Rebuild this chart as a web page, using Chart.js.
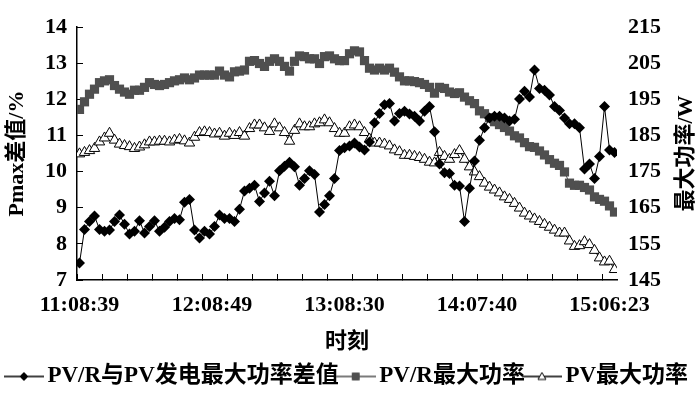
<!DOCTYPE html>
<html lang="zh">
<head>
    <title>最大功率对比</title>
    <meta charset="utf-8" />
    <script src="https://cdn.jsdelivr.net/npm/chart.js"></script>
    <style>
        html, body { margin: 0; padding: 0; background: #fff; }
        #chart { display: block; }
    </style>
</head>
<body>
    <canvas id="chart" width="700" height="398"></canvas>

    <script>
        // Time labels shown under the x axis
        const timeLabels = ['11:08:39', '12:08:49', '13:08:30', '14:07:40', '15:06:23'];

        // PV/R与PV发电最大功率差值 (%), left axis
        const diffPct = [7.47, 8.40, 8.62, 8.77, 8.40, 8.35, 8.38, 8.62, 8.80, 8.54,
            8.27, 8.35, 8.64, 8.30, 8.48, 8.64, 8.35, 8.46, 8.62, 8.70,
            8.67, 9.15, 9.23, 8.38, 8.16, 8.35, 8.27, 8.48, 8.80, 8.70,
            8.70, 8.62, 8.96, 9.46, 9.54, 9.62, 9.17, 9.41, 9.73, 9.33,
            10.02, 10.15, 10.26, 10.13, 9.62, 9.81, 10.02, 9.92, 8.88, 9.09,
            9.33, 9.81, 10.58, 10.66, 10.71, 10.79, 10.68, 10.60, 10.82, 11.35,
            11.61, 11.85, 11.88, 11.40, 11.61, 11.67, 11.59, 11.53, 11.40, 11.67,
            11.80, 11.10, 10.21, 9.97, 9.95, 9.62, 9.60, 8.62, 9.54, 10.29,
            10.87, 11.21, 11.48, 11.53, 11.53, 11.48, 11.40, 11.45, 12.01, 12.22,
            12.06, 12.81, 12.30, 12.25, 12.12, 11.80, 11.69, 11.48, 11.32, 11.32,
            11.21, 10.07, 10.21, 9.81, 10.42, 11.80, 10.60, 10.53];

        // PV/R最大功率 (W), right axis
        const prMaxW = [192.2, 194.3, 196.4, 197.8, 199.6, 200.1, 200.4, 198.8, 197.8, 197.0,
            196.4, 197.5, 197.5, 198.3, 199.6, 199.1, 198.8, 199.1, 199.6, 200.1,
            200.4, 200.9, 200.4, 200.9, 201.7, 201.7, 201.7, 201.7, 202.8, 201.7,
            201.2, 202.6, 202.8, 203.1, 205.5, 205.7, 204.9, 204.1, 205.5, 206.2,
            205.5, 204.1, 202.8, 205.5, 207.0, 206.8, 206.2, 206.2, 204.9, 206.8,
            207.0, 206.2, 205.7, 205.7, 207.6, 208.4, 208.1, 205.7, 203.6, 203.1,
            203.6, 203.1, 203.6, 202.5, 201.2, 200.1, 200.1, 199.9, 199.6, 199.1,
            198.3, 196.7, 198.3, 198.0, 197.0, 196.6, 196.8, 195.6, 194.6, 193.8,
            191.8, 191.0, 189.9, 188.8, 188.0, 187.2, 186.2, 184.9, 184.3, 183.0,
            181.9, 181.7, 180.7, 179.6, 178.3, 177.3, 176.7, 174.9, 171.8, 171.2,
            171.2, 170.6, 169.9, 168.0, 167.3, 166.8, 165.5, 163.8];

        // PV最大功率 (W), right axis
        const pvMaxW = [179.9, 180.3, 180.8, 181.4, 183.2, 184.3, 185.6, 183.7, 182.6, 182.2,
            181.9, 181.4, 181.8, 182.4, 183.2, 183.2, 183.4, 183.4, 183.2, 183.7,
            183.9, 183.5, 182.9, 184.5, 185.8, 186.0, 185.8, 185.4, 185.6, 184.8,
            185.6, 185.0, 185.8, 184.8, 186.9, 187.9, 187.9, 187.1, 186.1, 188.2,
            187.1, 185.8, 183.4, 186.4, 188.2, 187.4, 187.4, 188.2, 188.5, 189.3,
            188.5, 186.9, 185.6, 185.6, 187.4, 187.9, 187.4, 185.8, 184.0, 182.9,
            182.9, 182.6, 182.1, 181.0, 180.5, 179.5, 179.5, 179.2, 178.9, 178.4,
            177.6, 177.4, 180.3, 179.2, 178.4, 179.7, 180.8, 178.4, 176.3, 174.9,
            173.6, 171.8, 170.7, 169.9, 169.1, 168.0, 167.3, 166.2, 164.9, 163.5,
            162.7, 161.9, 161.2, 160.4, 159.6, 158.8, 158.0, 158.0, 155.8, 154.3,
            154.5, 155.6, 154.8, 153.2, 151.1, 150.0, 150.2, 147.9];

        const FONT = "'Liberation Serif', 'Times New Roman', 'Noto Sans CJK SC', serif";
        const GREY = '#4f4f4f';
        const txt = (size) => ({ family: FONT, size: size, weight: 'bold', lineHeight: 1 });

        // Sample index -> point
        const toPts = arr => arr.map((v, i) => ({ x: i, y: v }));

        // Where the time labels sit along the sample index axis
        const labelAt = [0, 26.5, 53, 79.5, 106];

        // x axis: tick marks every 5 samples plus the label ticks
        function xTicks(scale) {
            const t = [];
            for (let v = -0.5; v < 107; v += 5) t.push({ value: v, mark: true });
            labelAt.forEach((v, i) => t.push({ value: v, text: timeLabels[i] }));
            t.sort((a, b) => a.value - b.value);
            scale.ticks = t;
        }

        // Small legend pictures: line with the marker in the middle
        function legendPic(shape, color, fill) {
            const c = document.createElement('canvas');
            c.width = 40; c.height = 14;
            const g = c.getContext('2d');
            g.strokeStyle = color; g.lineWidth = 1.5;
            g.beginPath(); g.moveTo(0, 7); g.lineTo(40, 7); g.stroke();
            g.fillStyle = fill; g.lineWidth = 1;
            g.beginPath();
            if (shape === 'diamond') { g.moveTo(20, 3); g.lineTo(24, 7); g.lineTo(20, 11); g.lineTo(16, 7); }
            if (shape === 'square') { g.rect(16.5, 3.5, 7, 7); }
            if (shape === 'triangle') { g.moveTo(20, 3); g.lineTo(24, 10); g.lineTo(16, 10); }
            g.closePath(); g.fill(); g.stroke();
            return c;
        }
        const legendPics = [
            legendPic('diamond', '#000', '#000'),
            legendPic('square', GREY, GREY),
            legendPic('triangle', '#000', '#fff')
        ];

        // Right axis title reads bottom to top, like the left one
        const rightTitle = {
            id: 'rightTitle',
            afterDraw(chart) {
                const s = chart.scales.y1, a = chart.chartArea, c = chart.ctx;
                c.save();
                c.translate(s.right - 14, (a.top + a.bottom) / 2);
                c.rotate(-Math.PI / 2);
                c.font = 'bold 22px ' + FONT;
                c.fillStyle = '#000';
                c.textAlign = 'center';
                c.textBaseline = 'middle';
                c.fillText('最大功率/W', 0, 0);
                c.restore();
            }
        };

        new Chart(document.getElementById('chart'), {
            type: 'line',
            data: {
                datasets: [
                    {
                        label: 'PV/R与PV发电最大功率差值', data: toPts(diffPct), yAxisID: 'y',
                        borderColor: '#000', borderWidth: 1,
                        pointStyle: 'rectRot', pointRadius: 5.5,
                        pointBackgroundColor: '#000', pointBorderColor: '#000', pointBorderWidth: 0
                    },
                    {
                        label: 'PV/R最大功率', data: toPts(prMaxW), yAxisID: 'y1',
                        borderColor: GREY, borderWidth: 1,
                        pointStyle: 'rect', pointRadius: 6.5,
                        pointBackgroundColor: GREY, pointBorderColor: GREY, pointBorderWidth: 0
                    },
                    {
                        label: 'PV最大功率', data: toPts(pvMaxW), yAxisID: 'y1',
                        borderColor: '#000', borderWidth: 1,
                        pointStyle: 'triangle', pointRadius: 6,
                        pointBackgroundColor: '#fff', pointBorderColor: '#000', pointBorderWidth: 1
                    }
                ]
            },
            options: {
                responsive: false,
                animation: false,
                layout: { padding: { top: 17, left: 0, right: 0, bottom: 0 } },
                plugins: {
                    tooltip: { enabled: false },
                    legend: {
                        position: 'bottom',
                        labels: {
                            usePointStyle: true,
                            pointStyleWidth: 24,
                            padding: 5,
                            color: '#000',
                            font: txt(23),
                            generateLabels: chart => chart.data.datasets.map((ds, i) => ({
                                text: ds.label, pointStyle: legendPics[i], datasetIndex: i,
                                fillStyle: '#000', strokeStyle: '#000', lineWidth: 0, fontColor: '#000', hidden: false
                            }))
                        }
                    }
                },
                scales: {
                    x: {
                        type: 'linear', min: -0.5, max: 107.5,
                        afterBuildTicks: xTicks,
                        afterFit: s => { s.height = 80; },
                        border: { display: true, color: '#000', width: 1.5 },
                        grid: {
                            drawOnChartArea: false, tickLength: -6, tickWidth: 1,
                            tickColor: c => (c.tick && c.tick.mark) ? '#000' : 'rgba(0,0,0,0)'
                        },
                        ticks: {
                            autoSkip: false, maxRotation: 0, padding: 20, color: '#000',
                            font: txt(22),
                            callback: (v, i, ticks) => ticks[i].text || ''
                        },
                        title: {
                            display: true, text: '时刻', color: '#000',
                            font: txt(22),
                            padding: { top: 0, bottom: 7 }
                        }
                    },
                    y: {
                        position: 'left', min: 7, max: 14,
                        afterFit: s => { s.width = 77; },
                        border: { display: true, color: '#000', width: 1.5 },
                        grid: { drawOnChartArea: false, tickLength: -6, tickColor: '#000', tickWidth: 1 },
                        ticks: { stepSize: 1, padding: 16, color: '#000', font: txt(22) },
                        title: {
                            display: true, text: 'Pmax差值/%', color: '#000',
                            font: txt(22),
                            padding: { top: 6, bottom: 0 }
                        }
                    },
                    y1: {
                        position: 'right', min: 145, max: 215,
                        afterFit: s => { s.width = 83; },
                        border: { display: false },
                        grid: { display: false, drawTicks: false },
                        ticks: { stepSize: 10, padding: 11, color: '#000', font: txt(22) }
                    }
                }
            },
            plugins: [rightTitle]
        });
    </script>
</body>
</html>
